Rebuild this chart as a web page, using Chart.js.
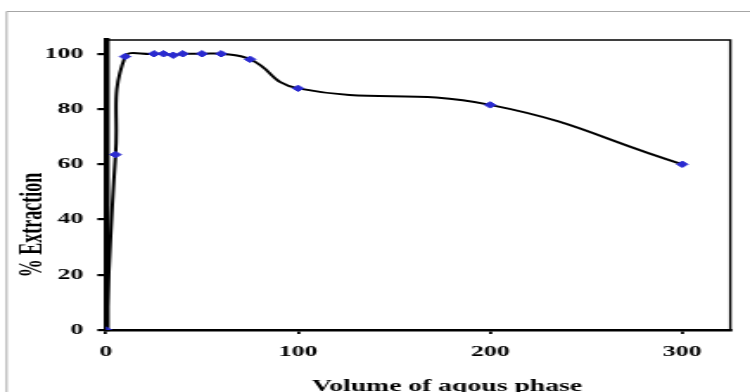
<!DOCTYPE html>
<html>
<head>
<meta charset="utf-8">
<script src="https://cdn.jsdelivr.net/npm/chart.js@4/dist/chart.umd.min.js"></script>
<style>
  html, body { margin: 0; padding: 0; background: #fff; overflow: hidden; }
  /* the figure is drawn narrow and widened horizontally, like the printed plot */
  #wrap { width: 434px; height: 392px; transform: scaleX(1.7281); transform-origin: 0 0; }
  canvas { display: block; }
</style>
</head>
<body>
<div id="wrap"><canvas id="c" width="434" height="392"></canvas></div>
<script>
// Volume of aqueous phase vs. % extraction
const volumes    = [0, 5, 10, 25, 30, 35, 40, 50, 60, 75, 100, 200, 300];
const extraction = [0, 63.5, 99, 100, 100, 99.5, 100, 100, 100, 98, 87.5, 81.5, 60];
const xTicks = [0, 100, 200, 300];
const yTicks = [0, 20, 40, 60, 80, 100];

const xTitle = 'Volume of aqous phase';
const yTitle = '% Extraction';

const serif = "'Liberation Serif', 'Times New Roman', serif";

const frame = {
  id: 'frame',
  beforeDraw(chart) {
    const ctx = chart.ctx;
    ctx.save();
    ctx.strokeStyle = '#a6a6a6';
    ctx.lineWidth = 1;
    ctx.beginPath();
    ctx.moveTo(3.8, 400);
    ctx.lineTo(3.8, 11.5);
    ctx.lineTo(440, 11.5);
    ctx.stroke();
    ctx.restore();
  },
  afterDatasetsDraw(chart) {
    const { ctx, chartArea: a } = chart;
    ctx.save();
    ctx.strokeStyle = '#000';
    ctx.lineWidth = 1.4;
    ctx.beginPath();
    ctx.moveTo(a.left, a.top);
    ctx.lineTo(a.right, a.top);
    ctx.lineTo(a.right, a.bottom);
    ctx.stroke();
    ctx.restore();
  },
  afterDraw(chart) {
    const ctx = chart.ctx;
    ctx.save();
    ctx.fillStyle = '#000';
    ctx.font = 'bold 16px ' + serif;
    ctx.textAlign = 'center';
    ctx.textBaseline = 'alphabetic';
    ctx.fillText(xTitle, 258.6, 391);
    ctx.translate(19.3, 225);
    ctx.rotate(-Math.PI / 2);
    ctx.font = 'bold 18px ' + serif;
    ctx.textBaseline = 'middle';
    ctx.fillText(yTitle, 0, 0);
    ctx.restore();
  }
};

new Chart(document.getElementById('c'), {
  type: 'scatter',
  data: {
    datasets: [{
      data: volumes.map((v, i) => ({ x: v, y: extraction[i] })),
      showLine: true,
      borderColor: '#000',
      borderWidth: 2,
      tension: 0.45,
      pointStyle: 'rectRot',
      pointRadius: 3.2,
      pointBorderWidth: 1,
      pointBackgroundColor: '#2a2ad0',
      pointBorderColor: '#2a2ad0'
    }]
  },
  options: {
    responsive: false,
    animation: false,
    devicePixelRatio: 1,
    layout: { padding: { top: 40, right: 11.4, left: 0, bottom: 0 } },
    plugins: { legend: { display: false }, tooltip: { enabled: false } },
    scales: {
      x: {
        type: 'linear', min: 0, max: 325,
        afterFit(s) { s.height = 62; },
        afterBuildTicks(s) { s.ticks = xTicks.map(v => ({ value: v })); },
        grid: { drawOnChartArea: false, drawTicks: true, tickLength: 4, color: '#000', lineWidth: 1.8 },
        border: { display: true, color: '#000', width: 2.6 },
        ticks: { color: '#000', padding: 9, maxRotation: 0, font: { family: serif, size: 15, weight: 'bold' } }
      },
      y: {
        type: 'linear', min: 0, max: 105,
        afterFit(s) { s.width = 61.3; },
        afterBuildTicks(s) { s.ticks = yTicks.map(v => ({ value: v })); },
        grid: { drawOnChartArea: false, drawTicks: true, tickLength: 5, color: '#000', lineWidth: 2.2 },
        border: { display: true, color: '#000', width: 3.4 },
        ticks: { color: '#000', padding: 8, font: { family: serif, size: 15, weight: 'bold' } }
      }
    }
  },
  plugins: [frame]
});
</script>
</body>
</html>
